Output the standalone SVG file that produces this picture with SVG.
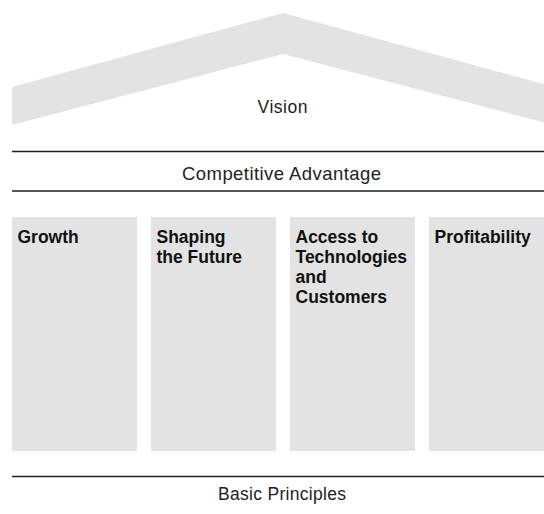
<svg xmlns="http://www.w3.org/2000/svg" width="544" height="514" viewBox="0 0 544 514">
<style>
.fill{fill:#e3e3e3}
.rule{stroke:#1e1e1e;stroke-width:1.5;fill:none}
.lt{font-family:"Liberation Sans",Arial,sans-serif;font-size:17.5px;fill:#222;text-anchor:middle}
.bd{font-family:"Liberation Sans",Arial,sans-serif;font-size:17.5px;font-weight:bold;fill:#111}
</style>
<rect width="544" height="514" fill="#fff"/>
<g id="vision">
<polygon class="fill" points="12,87 283,13 554,87 554,125 283,54 12,125"/>
<text class="lt" x="282.5" y="113" textLength="50">Vision</text>
</g>
<g id="connectors">
<line class="rule" x1="12" y1="151.5" x2="554" y2="151.5"/>
<line class="rule" x1="12" y1="191" x2="554" y2="191"/>
<line class="rule" x1="12" y1="476.5" x2="554" y2="476.5"/>
</g>
<g id="competitive-advantage">
<text class="lt" x="281.5" y="180" style="font-size:18.5px" textLength="199">Competitive Advantage</text>
</g>
<g id="growth">
<rect class="fill" x="12" y="217" width="125" height="234"/>
<text class="bd" x="17.5" y="243">Growth</text>
</g>
<g id="shaping-the-future">
<rect class="fill" x="151" y="217" width="125" height="234"/>
<text class="bd" x="156.5" y="243">Shaping</text>
<text class="bd" x="156.5" y="263">the Future</text>
</g>
<g id="access">
<rect class="fill" x="290" y="217" width="125" height="234"/>
<text class="bd" x="295.5" y="243">Access to</text>
<text class="bd" x="295.5" y="263">Technologies</text>
<text class="bd" x="295.5" y="283">and</text>
<text class="bd" x="295.5" y="303">Customers</text>
</g>
<g id="profitability">
<rect class="fill" x="429" y="217" width="125" height="234"/>
<text class="bd" x="434.5" y="243">Profitability</text>
</g>
<g id="basic-principles">
<text class="lt" x="282" y="500" textLength="128">Basic Principles</text>
</g>
</svg>
